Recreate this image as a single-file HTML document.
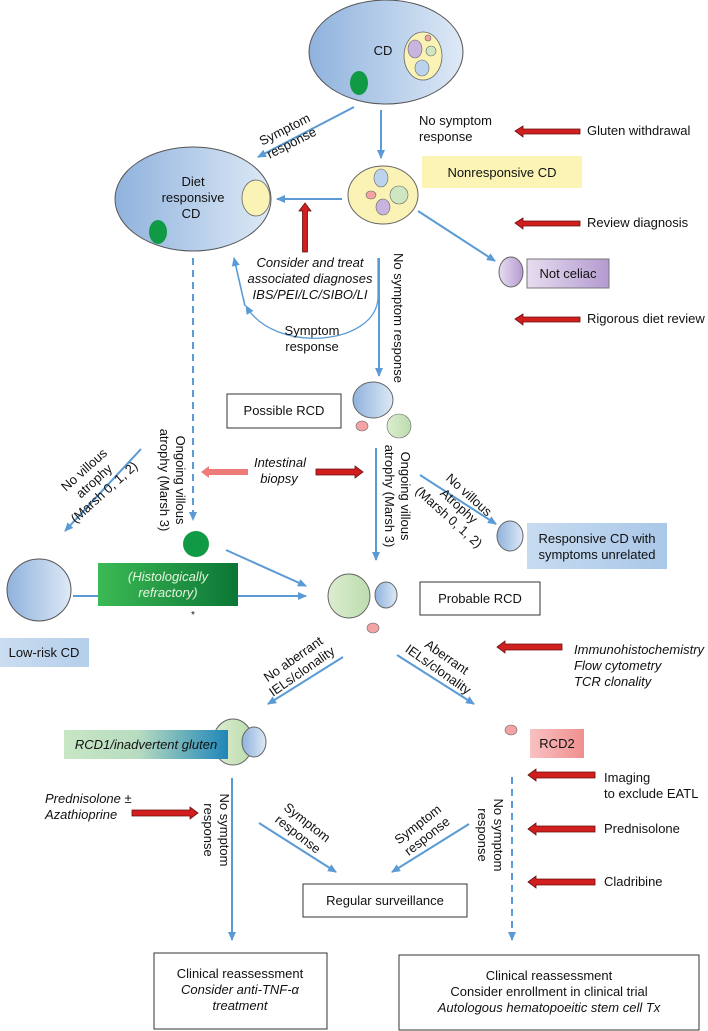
<!DOCTYPE html>
<html><head><meta charset="utf-8"><style>
html,body{margin:0;padding:0;background:#fff;}
svg{display:block;font-family:"Liberation Sans",Arial,sans-serif;font-size:13px;fill:#111;}
</style></head><body>
<svg width="708" height="1031" viewBox="0 0 708 1031" xmlns="http://www.w3.org/2000/svg">
<defs>
<linearGradient id="bl" x1="0" x2="1" y1="0" y2="0"><stop offset="0" stop-color="#8fb2dd"/><stop offset="1" stop-color="#dde9f6"/></linearGradient>
<linearGradient id="gr" x1="0" x2="1"><stop offset="0" stop-color="#dcedd0"/><stop offset="1" stop-color="#bcdcae"/></linearGradient>
<linearGradient id="pu" x1="0" x2="1"><stop offset="0" stop-color="#e6ddf0"/><stop offset="1" stop-color="#b49ad0"/></linearGradient>
<linearGradient id="hist" x1="0" x2="1"><stop offset="0" stop-color="#3cba55"/><stop offset="1" stop-color="#0b7635"/></linearGradient>
<linearGradient id="rcd1" x1="0" x2="1"><stop offset="0" stop-color="#c7e6c4"/><stop offset="0.45" stop-color="#b8dcc0"/><stop offset="1" stop-color="#1f86b8"/></linearGradient>
<linearGradient id="rcd2" x1="0" x2="1"><stop offset="0" stop-color="#f9c1c1"/><stop offset="1" stop-color="#f08f8f"/></linearGradient>
<linearGradient id="resp" x1="0" x2="1"><stop offset="0" stop-color="#c7dbf0"/><stop offset="1" stop-color="#a9c7e8"/></linearGradient>
<linearGradient id="low" x1="0" x2="1"><stop offset="0" stop-color="#cadcf0"/><stop offset="1" stop-color="#b5cfea"/></linearGradient>
<marker id="ah" markerWidth="10" markerHeight="10" refX="8" refY="4" orient="auto" markerUnits="userSpaceOnUse"><path d="M0,0 L9,4 L0,8 z" fill="#5b9bd5"/></marker>
</defs>

<g stroke="#5b9bd5" stroke-width="2" fill="none">
<line x1="354" y1="107" x2="258" y2="157" marker-end="url(#ah)"/>
<line x1="381" y1="110" x2="381" y2="158" marker-end="url(#ah)"/>
<line x1="342" y1="199" x2="277" y2="199" marker-end="url(#ah)"/>
<line x1="418" y1="211" x2="495" y2="261" marker-end="url(#ah)"/>
<line x1="379" y1="258" x2="379" y2="376" marker-end="url(#ah)"/>
<path d="M378,258 L378,298 C376,345 275,355 246,306" stroke-width="1.3" marker-end="url(#ah)"/>
<line x1="245" y1="306" x2="234" y2="258" stroke-width="1.6" marker-end="url(#ah)"/>
<line x1="193" y1="258" x2="193" y2="520" stroke-dasharray="7,5" marker-end="url(#ah)"/>
<line x1="141" y1="449" x2="65" y2="531" marker-end="url(#ah)"/>
<line x1="376" y1="448" x2="376" y2="560" marker-end="url(#ah)"/>
<line x1="420" y1="475" x2="496" y2="524" marker-end="url(#ah)"/>
<line x1="73" y1="596" x2="98" y2="596"/>
<line x1="238" y1="596" x2="306" y2="596" marker-end="url(#ah)"/>
<line x1="226" y1="550" x2="306" y2="586" marker-end="url(#ah)"/>
<line x1="343" y1="657" x2="268" y2="704" marker-end="url(#ah)"/>
<line x1="397" y1="655" x2="474" y2="704" marker-end="url(#ah)"/>
<line x1="232" y1="778" x2="232" y2="940" marker-end="url(#ah)"/>
<line x1="259" y1="823" x2="336" y2="872" marker-end="url(#ah)"/>
<line x1="469" y1="824" x2="392" y2="872" marker-end="url(#ah)"/>
<line x1="512" y1="777" x2="512" y2="940" stroke-dasharray="7,5" marker-end="url(#ah)"/>
</g>

<ellipse cx="386" cy="52" rx="77" ry="52" fill="url(#bl)" stroke="#555" stroke-width="1"/>
<ellipse cx="423" cy="56" rx="19" ry="24" fill="#faf3b5" stroke="#666" stroke-width="0.8"/>
<ellipse cx="415" cy="49" rx="7" ry="9" fill="#c8b4de" stroke="#666" stroke-width="0.6"/>
<ellipse cx="431" cy="51" rx="5" ry="5" fill="#cfe6c2" stroke="#666" stroke-width="0.6"/>
<ellipse cx="428" cy="38" rx="3" ry="3" fill="#f3a3a3" stroke="#666" stroke-width="0.6"/>
<ellipse cx="422" cy="68" rx="7" ry="8" fill="#bcd3ee" stroke="#666" stroke-width="0.6"/>
<ellipse cx="359" cy="83" rx="9" ry="12" fill="#119a45"/>
<text x="383" y="55" text-anchor="middle">CD</text>

<text transform="translate(288,136) rotate(-27)" text-anchor="middle"><tspan x="0" y="-3">Symptom</tspan><tspan x="0" y="12">response</tspan></text>
<text x="419" y="125">No symptom</text><text x="419" y="141">response</text>

<ellipse cx="193" cy="199" rx="78" ry="52" fill="url(#bl)" stroke="#555"/>
<ellipse cx="256" cy="198" rx="14" ry="18" fill="#faf3b5" stroke="#666" stroke-width="0.8"/>
<ellipse cx="158" cy="232" rx="9" ry="12" fill="#119a45"/>
<text x="193" y="186" text-anchor="middle">Diet</text>
<text x="193" y="202" text-anchor="middle">responsive</text>
<text x="191" y="218" text-anchor="middle">CD</text>

<ellipse cx="383" cy="195" rx="35" ry="29" fill="#faf3b5" stroke="#666"/>
<ellipse cx="381" cy="178" rx="7" ry="9" fill="#bcd3ee" stroke="#666" stroke-width="0.6"/>
<ellipse cx="371" cy="195" rx="5" ry="4" fill="#f3a3a3" stroke="#666" stroke-width="0.6"/>
<ellipse cx="399" cy="195" rx="9" ry="9" fill="#cfe6c2" stroke="#666" stroke-width="0.6"/>
<ellipse cx="383" cy="207" rx="7" ry="8" fill="#c8b4de" stroke="#666" stroke-width="0.6"/>
<rect x="422" y="156" width="160" height="32" fill="#fbf4b5"/>
<text x="502" y="177" text-anchor="middle">Nonresponsive CD</text>

<g fill="#d11f1f" stroke="#6a0d0d" stroke-width="0.8">
<polygon points="515,131 523,126 523,129 580,129 580,134 523,134 523,137"/>
<polygon points="515,223 523,218 523,221 580,221 580,226 523,226 523,229"/>
<polygon points="515,319 523,314 523,317 580,317 580,322 523,322 523,325"/>
<polygon points="305,203 311,211 307.5,211 307.5,252 302.5,252 302.5,211 299,211"/>
<polygon points="363,472 355,466 355,469 316,469 316,475 355,475 355,478"/>
<polygon points="497,647 505,641 505,644 562,644 562,650 505,650 505,653"/>
<polygon points="198,813 190,807 190,810 132,810 132,816 190,816 190,819"/>
<polygon points="528,775 536,769 536,772 595,772 595,778 536,778 536,781"/>
<polygon points="528,829 536,823 536,826 595,826 595,832 536,832 536,835"/>
<polygon points="528,882 536,876 536,879 595,879 595,885 536,885 536,888"/>
</g>
<polygon points="201,472 209,466 209,469 248,469 248,475 209,475 209,478" fill="#ef7a7a"/>
<text x="587" y="135">Gluten withdrawal</text>
<text x="587" y="227">Review diagnosis</text>
<text x="587" y="323">Rigorous diet review</text>

<ellipse cx="511" cy="272" rx="12" ry="15" fill="url(#pu)" stroke="#666"/>
<rect x="527" y="259" width="82" height="29" fill="url(#pu)" stroke="#777"/>
<text x="568" y="278" text-anchor="middle">Not celiac</text>

<g font-style="italic" text-anchor="middle">
<text x="310" y="267">Consider  and treat</text>
<text x="310" y="283">associated diagnoses</text>
<text x="310" y="299">IBS/PEI/LC/SIBO/LI</text>
</g>
<text x="312" y="335" text-anchor="middle">Symptom</text>
<text x="312" y="351" text-anchor="middle">response</text>
<text transform="translate(398,318) rotate(90)" text-anchor="middle" y="4">No symptom response</text>

<rect x="227" y="394" width="114" height="34" fill="#fff" stroke="#333"/>
<text x="284" y="415" text-anchor="middle">Possible RCD</text>
<ellipse cx="373" cy="400" rx="20" ry="18" fill="url(#bl)" stroke="#666"/>
<ellipse cx="362" cy="426" rx="6" ry="5" fill="#f3a3a3" stroke="#666" stroke-width="0.6"/>
<ellipse cx="399" cy="426" rx="12" ry="12" fill="url(#gr)" stroke="#666" stroke-width="0.6"/>

<text transform="translate(172,480) rotate(90)" text-anchor="middle"><tspan x="0" y="-4">Ongoing villous</tspan><tspan x="0" y="12">atrophy (Marsh 3)</tspan></text>
<text transform="translate(397,496) rotate(90)" text-anchor="middle"><tspan x="0" y="-4">Ongoing villous</tspan><tspan x="0" y="12">atrophy (Marsh 3)</tspan></text>
<text transform="translate(95,482) rotate(-42)" text-anchor="middle"><tspan x="0" y="-12">No villous</tspan><tspan x="0" y="3">atrophy</tspan><tspan x="0" y="18">(Marsh 0, 1, 2)</tspan></text>
<text transform="translate(458,507) rotate(42)" text-anchor="middle"><tspan x="0" y="-12">No villous</tspan><tspan x="0" y="3">Atrophy</tspan><tspan x="0" y="18">(Marsh 0, 1, 2)</tspan></text>
<g font-style="italic" text-anchor="middle"><text x="280" y="467">Intestinal</text><text x="279" y="483">biopsy</text></g>

<ellipse cx="510" cy="536" rx="13" ry="15" fill="url(#bl)" stroke="#666"/>
<rect x="527" y="523" width="140" height="46" fill="url(#resp)"/>
<text x="597" y="543" text-anchor="middle">Responsive CD with</text>
<text x="597" y="559" text-anchor="middle">symptoms unrelated</text>

<ellipse cx="196" cy="544" rx="13" ry="13" fill="#119a45"/>
<rect x="98" y="563" width="140" height="43" fill="url(#hist)"/>
<g font-style="italic" text-anchor="middle" fill="#e5f4dc"><text x="168" y="581">(Histologically</text><text x="168" y="597">refractory)</text></g>
<text x="193" y="618" text-anchor="middle" font-size="10">*</text>
<ellipse cx="39" cy="590" rx="32" ry="31" fill="url(#bl)" stroke="#555"/>
<rect x="0" y="638" width="89" height="29" fill="url(#low)"/>
<text x="44" y="657" text-anchor="middle">Low-risk CD</text>

<ellipse cx="349" cy="596" rx="21" ry="22" fill="url(#gr)" stroke="#666"/>
<ellipse cx="386" cy="595" rx="11" ry="13" fill="url(#bl)" stroke="#666"/>
<ellipse cx="373" cy="628" rx="6" ry="5" fill="#f3a3a3" stroke="#666" stroke-width="0.6"/>
<rect x="420" y="582" width="120" height="33" fill="#fff" stroke="#333"/>
<text x="480" y="603" text-anchor="middle">Probable RCD</text>

<g font-style="italic"><text x="574" y="654">Immunohistochemistry</text><text x="574" y="670">Flow cytometry</text><text x="574" y="686">TCR clonality</text></g>
<text transform="translate(298,666) rotate(-35)" text-anchor="middle"><tspan x="0" y="-4">No aberrant</tspan><tspan x="0" y="11">IELs/clonality</tspan></text>
<text transform="translate(442,664) rotate(35)" text-anchor="middle"><tspan x="0" y="-4">Aberrant</tspan><tspan x="0" y="11">IELs/clonality</tspan></text>

<ellipse cx="233" cy="742" rx="20" ry="23" fill="url(#gr)" stroke="#666"/>
<rect x="64" y="730" width="164" height="29" fill="url(#rcd1)"/>
<ellipse cx="254" cy="742" rx="12" ry="15" fill="url(#bl)" stroke="#666"/>
<text x="146" y="749" text-anchor="middle" font-style="italic">RCD1/inadvertent gluten</text>

<ellipse cx="511" cy="730" rx="6" ry="5" fill="#f3a3a3" stroke="#666" stroke-width="0.6"/>
<rect x="530" y="729" width="54" height="29" fill="url(#rcd2)"/>
<text x="557" y="748" text-anchor="middle">RCD2</text>

<text x="604" y="782">Imaging</text><text x="604" y="798">to exclude EATL</text>
<text x="604" y="833">Prednisolone</text>
<text x="604" y="886">Cladribine</text>
<g font-style="italic"><text x="45" y="803">Prednisolone ±</text><text x="45" y="819">Azathioprine</text></g>

<text transform="translate(216,830) rotate(90)" text-anchor="middle"><tspan x="0" y="-4">No symptom</tspan><tspan x="0" y="12">response</tspan></text>
<text transform="translate(490,835) rotate(90)" text-anchor="middle"><tspan x="0" y="-4">No symptom</tspan><tspan x="0" y="12">response</tspan></text>
<text transform="translate(302,829) rotate(38)" text-anchor="middle"><tspan x="0" y="-4">Symptom</tspan><tspan x="0" y="11">response</tspan></text>
<text transform="translate(423,831) rotate(-38)" text-anchor="middle"><tspan x="0" y="-4">Symptom</tspan><tspan x="0" y="11">response</tspan></text>

<rect x="303" y="884" width="164" height="33" fill="#fff" stroke="#333"/>
<text x="385" y="905" text-anchor="middle">Regular surveillance</text>

<rect x="154" y="953" width="173" height="76" fill="#fff" stroke="#333"/>
<text x="240" y="978" text-anchor="middle">Clinical reassessment</text>
<text x="240" y="994" text-anchor="middle" font-style="italic">Consider anti-TNF-α</text>
<text x="240" y="1010" text-anchor="middle" font-style="italic">treatment</text>

<rect x="399" y="955" width="300" height="75" fill="#fff" stroke="#333"/>
<text x="549" y="980" text-anchor="middle">Clinical reassessment</text>
<text x="549" y="996" text-anchor="middle">Consider enrollment in clinical trial</text>
<text x="549" y="1012" text-anchor="middle" font-style="italic">Autologous hematopoeitic stem cell Tx</text>
</svg>
</body></html>
